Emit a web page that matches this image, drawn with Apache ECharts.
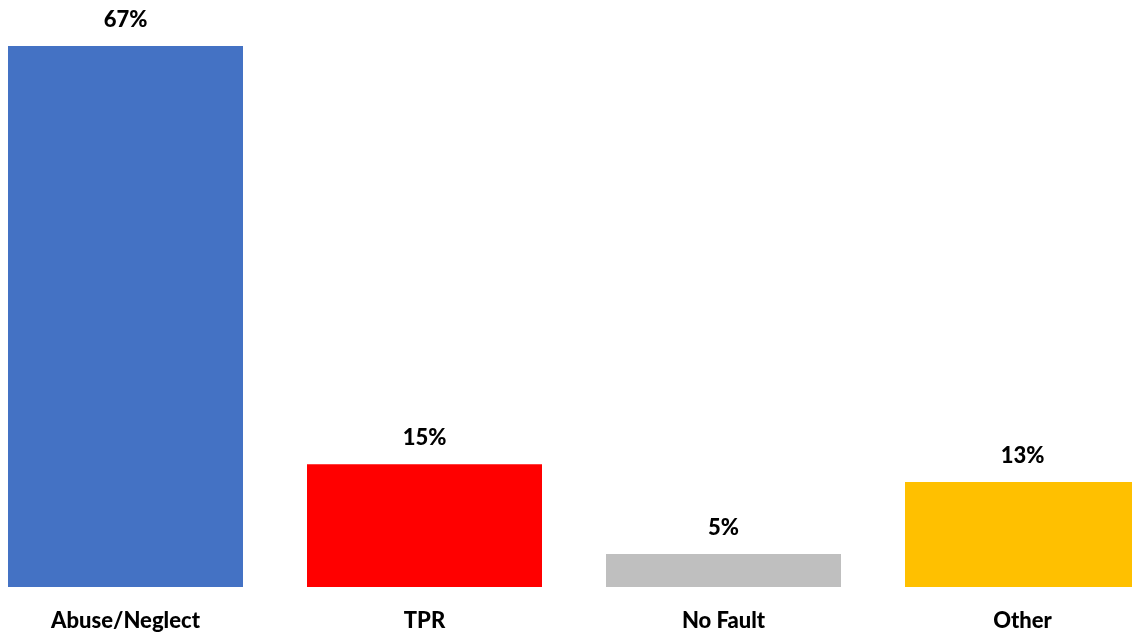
<!DOCTYPE html>
<html>
<head>
<meta charset="utf-8">
<script src="https://cdn.jsdelivr.net/npm/echarts@6/dist/echarts.min.js"></script>
<style>
html,body{margin:0;padding:0;background:#fff;}
#c{width:1132px;height:635px;}
</style>
</head>
<body>
<div id="c"></div>
<script>
const categories = ["Abuse/Neglect", "TPR", "No Fault", "Other"];
const values = [67, 15.2, 4.1, 13];
const valueLabels = ["67%", "15%", "5%", "13%"];
const colors = ["#4472C4", "#FF0000", "#BFBFBF", "#FFC000"];

const chart = echarts.init(document.getElementById('c'));
const FONT = 'Lato';
chart.setOption({
  backgroundColor: '#ffffff',
  animation: false,
  grid: { left: -24, width: 1196, top: 21.8, bottom: 48, outerBoundsMode: 'none', containLabel: false },
  xAxis: {
    type: 'category',
    data: categories,
    axisLine: { show: false },
    axisTick: { show: false },
    axisLabel: { color: '#000', fontFamily: FONT, fontWeight: 900, fontSize: 22, margin: 23 }
  },
  yAxis: {
    type: 'value', min: 0, max: 70,
    show: false,
    splitLine: { show: false }
  },
  series: [{
    type: 'bar',
    barWidth: 235,
    data: values.map((v, i) => ({ value: v, itemStyle: { color: colors[i] } })),
    label: {
      show: true,
      position: 'top',
      distance: 15,
      color: '#000',
      fontFamily: FONT,
      fontWeight: 900,
      fontSize: 22,
      formatter: p => valueLabels[p.dataIndex]
    }
  }]
});
</script>
</body>
</html>
